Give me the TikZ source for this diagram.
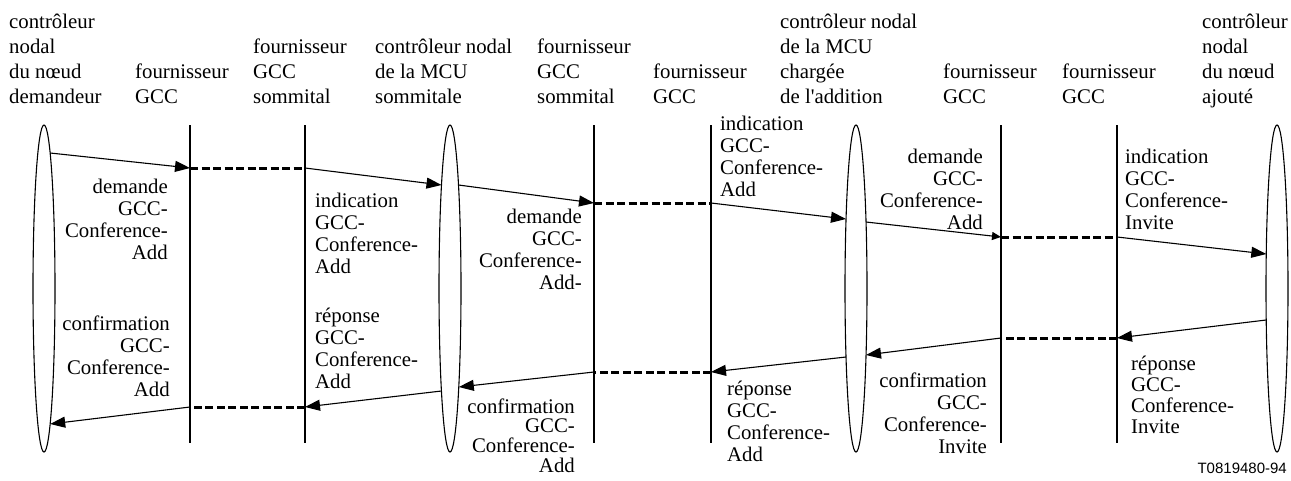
\documentclass[tikz,border=0pt]{standalone}
\usepackage{fontspec}
\setmainfont{Liberation Serif}
\newfontfamily\refsans{Liberation Sans}
\newfontfamily\straightserif{Liberation Serif}[Ligatures=TeXOff]
\usetikzlibrary{arrows.meta,shapes.geometric}
% stacked lines of a message label, alignment given as r or l
\newcommand\msglines[2]{\begin{tabular}[t]{@{}#1@{}}#2\end{tabular}}
\begin{document}
\begin{tikzpicture}[x=1pt,y=-1pt,
  entity/.style={draw,ellipse,line width=1.1pt,minimum width=22pt,minimum height=327pt,inner sep=0pt},
  lifeline/.style={line width=2pt},
  msg/.style={line width=1.1pt,-{Triangle[length=15pt,width=11pt]}},
  smallmsg/.style={line width=1.1pt,-{Triangle[length=9pt,width=8pt]}},
  relay/.style={line width=3pt,dash pattern=on 8pt off 3.5pt},
  head/.style={anchor=base west,inner sep=0pt,font=\fontsize{20.8}{25}\selectfont},
  notel/.style={anchor=base west,inner sep=0pt,font=\fontsize{20.8}{22}\selectfont},
  noter/.style={anchor=base east,inner sep=0pt,font=\fontsize{20.8}{22}\selectfont},
]
\useasboundingbox (0,0) rectangle (1291,480);

% column headings
\node[head] (h1) at (9,28) {\msglines{l}{contrôleur\\nodal\\du nœud\\demandeur}};
\node[head] (h2) at (135,78) {\msglines{l}{fournisseur\\GCC}};
\node[head] (h3) at (253,53) {\msglines{l}{fournisseur\\GCC\\sommital}};
\node[head] (h4) at (375,53) {\msglines{l}{contrôleur nodal\\de la MCU\\sommitale}};
\node[head] (h5) at (537,53) {\msglines{l}{fournisseur\\GCC\\sommital}};
\node[head] (h6) at (653,78) {\msglines{l}{fournisseur\\GCC}};
\node[head] (h7) at (780,28) {\msglines{l}{contrôleur nodal\\de la MCU\\chargée\\de l{\straightserif'}addition}};
\node[head] (h8) at (943,78) {\msglines{l}{fournisseur\\GCC}};
\node[head] (h9) at (1062,78) {\msglines{l}{fournisseur\\GCC}};
\node[head] (h10) at (1202,28) {\msglines{l}{contrôleur\\nodal\\du nœud\\ajouté}};

% node controllers
\node[entity] (e1) at (44,288.5) {};
\node[entity] (e2) at (450,288.5) {};
\node[entity] (e3) at (856,288.5) {};
\node[entity] (e4) at (1277,288.5) {};

% GCC provider lifelines
\foreach \n/\x in {g1/190,g2/305,g3/594,g4/711,g5/1001,g6/1117}{
  \coordinate (\n t) at (\x,125);
  \coordinate (\n b) at (\x,443);
  \draw[lifeline] (\n t) -- (\n b);
}

% points on the controller outlines
\coordinate (e1a) at (50.2,153);
\coordinate (e2a) at (441.5,185);
\coordinate (e2b) at (458.5,185);
\coordinate (e3a) at (846.0,219);
\coordinate (e3b) at (866.0,222);
\coordinate (e4a) at (1266.3,254);
\coordinate (e4b) at (1266.2,320);
\coordinate (e3c) at (866.0,355);
\coordinate (e3d) at (846.0,357);
\coordinate (e2c) at (458.8,387);
\coordinate (e2d) at (441.4,391);
\coordinate (e1b) at (50.2,424);

% request path, left to right
\draw[msg] (e1a) -- (g1t |- 0,168);
\draw[relay] (g1t |- 0,168) -- (g2t |- 0,168);
\draw[msg] (g2t |- 0,168) -- (e2a);
\draw[msg] (e2b) -- (g3t |- 0,203);
\draw[relay] (g3t |- 0,203) -- (g4t |- 0,203);
\draw[msg] (g4t |- 0,203) -- (e3a);
\draw[smallmsg] (e3b) -- (g5t |- 0,237);
\draw[relay] (g5t |- 0,237) -- (g6t |- 0,237);
\draw[msg] (g6t |- 0,237) -- (e4a);

% response path, right to left
\draw[msg] (e4b) -- (g6t |- 0,338);
\draw[relay] (g6t |- 0,338) -- (g5t |- 0,338);
\draw[msg] (g5t |- 0,338) -- (e3c);
\draw[msg] (e3d) -- (g4t |- 0,372);
\draw[relay] (g4t |- 0,372) -- (g3t |- 0,372);
\draw[msg] (g3t |- 0,372) -- (e2c);
\draw[msg] (e2d) -- (g2t |- 0,407);
\draw[relay] (g2t |- 0,407) -- (g1t |- 0,407);
\draw[msg] (g1t |- 0,407) -- (e1b);

% primitive labels
\node[noter] (l1) at (168,193) {\msglines{r}{demande\\GCC-\\Conference-\\Add}};
\node[notel] (l2) at (315,207) {\msglines{l}{indication\\GCC-\\Conference-\\Add}};
\node[noter] (l3) at (582,223) {\msglines{r}{demande\\GCC-\\Conference-\\Add-}};
\node[notel] (l4) at (720,130) {\msglines{l}{indication\\GCC-\\Conference-\\Add}};
\node[noter] (l5) at (983,163) {\msglines{r}{demande\\GCC-\\Conference-\\Add}};
\node[notel] (l6) at (1125,163) {\msglines{l}{indication\\GCC-\\Conference-\\Invite}};
\node[noter] (l7) at (170,330) {\msglines{r}{confirmation\\GCC-\\Conference-\\Add}};
\node[notel] (l8) at (315,322) {\msglines{l}{réponse\\GCC-\\Conference-\\Add}};
\node[noter,font=\fontsize{20.8}{18.5}\selectfont] (l9) at (575,413) {\msglines{r}{confirmation\\GCC-\\Conference-\\Add}};
\node[notel] (l10) at (727,395) {\msglines{l}{réponse\\GCC-\\Conference-\\Add}};
\node[noter] (l11) at (987,387) {\msglines{r}{confirmation\\GCC-\\Conference-\\Invite}};
\node[notel,font=\fontsize{20.8}{21}\selectfont] (l12) at (1131,370) {\msglines{l}{réponse\\GCC-\\Conference-\\Invite}};

% figure reference
\node[anchor=base east,inner sep=0pt,font=\refsans\fontsize{15}{18}\selectfont] (ref) at (1287,473) {T0819480-94};
\end{tikzpicture}
\end{document}
